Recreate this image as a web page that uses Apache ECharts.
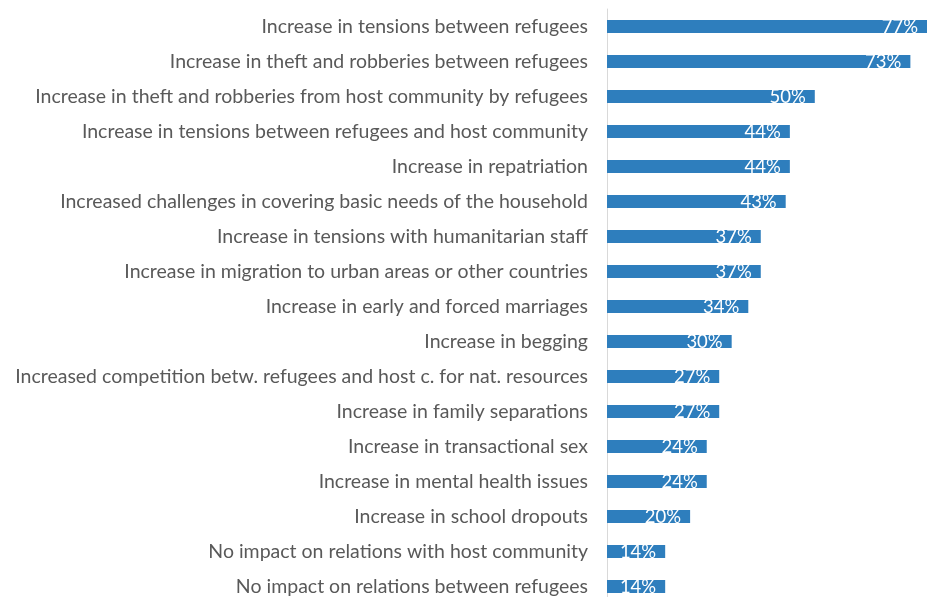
<!DOCTYPE html>
<html>
<head>
<meta charset="utf-8">
<script src="https://cdn.jsdelivr.net/npm/echarts@6/dist/echarts.min.js"></script>
<style>
  html, body { margin: 0; padding: 0; background: #ffffff; }
  #chart { width: 930px; height: 597px; }
</style>
</head>
<body>
<div id="chart"></div>
<script>
// Reported impacts, listed top to bottom
const categories = [
  'Increase in tensions between refugees',
  'Increase in theft and robberies between refugees',
  'Increase in theft and robberies from host community by refugees',
  'Increase in tensions between refugees and host community',
  'Increase in repatriation',
  'Increased challenges in covering basic needs of the household',
  'Increase in tensions with humanitarian staff',
  'Increase in migration to urban areas or other countries',
  'Increase in early and forced marriages',
  'Increase in begging',
  'Increased competition betw. refugees and host c. for nat. resources',
  'Increase in family separations',
  'Increase in transactional sex',
  'Increase in mental health issues',
  'Increase in school dropouts',
  'No impact on relations with host community',
  'No impact on relations between refugees'
];

// Share of respondents (%)
const shares = [77, 73, 50, 44, 44, 43, 37, 37, 34, 30, 27, 27, 24, 24, 20, 14, 14];

const chart = echarts.init(document.getElementById('chart'));
chart.setOption({
  animation: false,
  grid: { left: 607, top: 9, width: 320, height: 595, containLabel: false, outerBoundsMode: 'none' },
  xAxis: {
    type: 'value',
    min: 0,
    max: 77,
    show: false
  },
  yAxis: {
    type: 'category',
    data: categories,
    inverse: true,
    axisLine: { show: true, lineStyle: { color: '#d9d9d9', width: 1 } },
    axisTick: { show: false },
    axisLabel: {
      color: '#595959',
      fontFamily: 'Lato',
      fontSize: 19.5,
      margin: 19
    }
  },
  series: [{
    type: 'bar',
    data: shares,
    barWidth: 13,
    itemStyle: { color: '#2e7ebd' },
    label: {
      show: true,
      position: 'insideRight',
      distance: 9,
      offset: [0, 1],
      color: '#ffffff',
      fontFamily: 'Lato',
      fontSize: 18.5,
      formatter: p => p.value + '%'
    }
  }]
});
</script>
</body>
</html>
